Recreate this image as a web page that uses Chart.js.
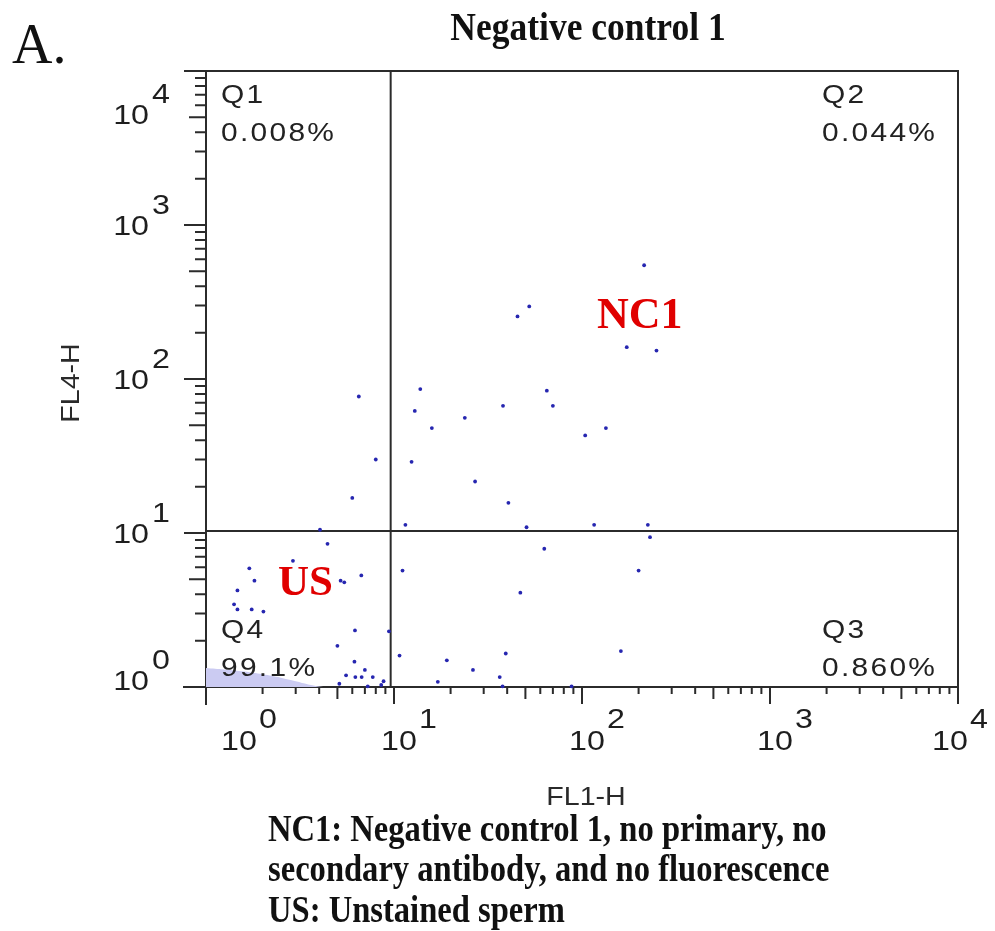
<!DOCTYPE html>
<html>
<head>
<meta charset="utf-8">
<title>Negative control 1</title>
<script src="https://cdn.jsdelivr.net/npm/chart.js@4.4.1/dist/chart.umd.min.js"></script>
<style>
  body { margin: 0; background: #fff; }
  #wrap { position: relative; width: 995px; height: 931px; overflow: hidden; }
  #wrap canvas { position: absolute; left: 0; top: 0; }
  .serif { position: absolute; font-family: "Liberation Serif", "Times New Roman", serif; color: #111; white-space: nowrap; }
  #panel { left: 12px; top: 12px; font-size: 56px; line-height: 64px; }
  #title { left: 388px; width: 400px; top: 4px; text-align: center; font-size: 35.5px; line-height: 40px; font-weight: bold;
           transform: scale(1, 1.12); transform-origin: 50% 0; }
  #caption { left: 268px; top: 809px; font-size: 32.6px; line-height: 35px; font-weight: bold;
             transform: scale(1, 1.15); transform-origin: 0 0; }
</style>
</head>
<body>
<div id="wrap">
  <canvas id="chartCanvas" width="995" height="931"></canvas>
  <div class="serif" id="panel">A.</div>
  <div class="serif" id="title">Negative control 1</div>
  <div class="serif" id="caption">NC1: Negative control 1, no primary, no<br>secondary antibody, and no fluorescence<br>US: Unstained sperm</div>
</div>
<script>
// axis decades (both axes are log, 10^0 .. 10^4)
const decades = [1, 10, 100, 1000, 10000];
const tickExponents = ['0', '1', '2', '3', '4'];
const minorSteps = [2, 3, 4, 5, 6, 7, 8, 9];

// quadrant gate
const gateX = 9.6;
const gateY = 10.3;
const quadrantNames = ['Q1', 'Q2', 'Q3', 'Q4'];
const quadrantPercents = ['0.008%', '0.044%', '0.860%', '99.1%'];

// individual events (FL1-H, FL4-H)
const fl1 = [6.5, 13.8, 12.9, 38, 65, 70, 23.8, 15.9, 104, 8.0,
             12.4, 27, 6.0, 40.6, 4.04, 11.5, 50.7, 116, 4.43, 63,
             2.9, 1.70, 1.81, 6.7, 5.2, 5.44, 11.1, 1.47, 47, 1.41,
             1.47, 1.75, 2.02, 6.2, 9.4, 5.0, 10.7, 19.1, 39.3, 6.16,
             26.3, 7.0, 5.56, 6.23, 6.73, 7.71, 8.8, 36.5, 5.12, 7.25,
             8.55, 17.1, 88, 37.8, 52.4, 45.4, 214, 173, 249, 134,
             224, 230, 200, 161];
const fl4 = [77, 86, 62, 67, 84, 67, 56, 48, 43, 30,
             29, 21.6, 16.9, 15.7, 10.5, 11.3, 10.9, 11.3, 8.5, 7.9,
             6.6, 5.9, 4.9, 5.3, 4.9, 4.78, 5.7, 4.24, 4.1, 3.44,
             3.19, 3.19, 3.09, 2.33, 2.3, 1.85, 1.6, 1.49, 1.65, 1.46,
             1.29, 1.29, 1.19, 1.16, 1.16, 1.16, 1.09, 1.16, 1.05, 1.01,
             1.03, 1.08, 1.01, 1.01, 296, 255, 548, 161, 153, 48,
             11.3, 9.4, 5.7, 1.71];

// outline of the dense unstained population in the corner
const cloudFl1 = [1, 1.25, 1.6, 2.0, 2.5, 3.0, 3.5, 4.2];
const cloudFl4 = [1.33, 1.3, 1.26, 1.21, 1.15, 1.09, 1.04, 1.0];

const sans = '"Liberation Sans", Arial, sans-serif';
const serif = '"Liberation Serif", "Times New Roman", serif';
const ink = '#2b2b2b';

// the cytometer export uses a wide sans face; stretch it a little
function wideText(ctx, text, x, y, align, sx) {
  ctx.save();
  ctx.translate(x, y);
  ctx.scale(sx, 1);
  ctx.textAlign = align;
  ctx.fillText(text, 0, 0);
  ctx.restore();
}

const flowFrame = {
  id: 'flowFrame',
  beforeDatasetsDraw(chart) {
    const { ctx, chartArea: a, scales: { x, y } } = chart;
    ctx.save();
    ctx.strokeStyle = ink;
    ctx.lineWidth = 2;
    ctx.strokeRect(a.left, a.top, a.right - a.left, a.bottom - a.top);
    ctx.beginPath();
    ctx.moveTo(a.left - 23, a.bottom);
    ctx.lineTo(a.right, a.bottom);
    ctx.moveTo(a.left, a.top);
    ctx.lineTo(a.left, a.bottom + 18);
    // tick marks
    decades.forEach((d, i) => {
      const px = x.getPixelForValue(d);
      const py = y.getPixelForValue(d);
      ctx.moveTo(px, a.bottom); ctx.lineTo(px, a.bottom + 17);
      ctx.moveTo(a.left, py); ctx.lineTo(a.left - 22, py);
      if (i === decades.length - 1) return;
      minorSteps.forEach(m => {
        const mx = x.getPixelForValue(d * m);
        const my = y.getPixelForValue(d * m);
        ctx.moveTo(mx, a.bottom); ctx.lineTo(mx, a.bottom + (m === 5 ? 12 : 7));
        ctx.moveTo(a.left, my); ctx.lineTo(a.left - (m === 5 ? 17 : 11), my);
      });
    });
    ctx.stroke();
    ctx.restore();
  },
  afterDatasetsDraw(chart) {
    const { ctx, chartArea: a, scales: { x, y } } = chart;
    const sx = 1.15;
    const last = decades.length - 1;
    ctx.save();
    // tick labels 10^n
    ctx.fillStyle = '#1e1e1e';
    ctx.font = '28px ' + sans;
    ctx.textBaseline = 'alphabetic';
    const w10 = ctx.measureText('10').width * sx;
    decades.forEach((d, i) => {
      const px = x.getPixelForValue(d) + (i === 0 ? 33 : i === last ? -8 : 5);
      wideText(ctx, '10', px, a.bottom + 63, 'center', sx);
      wideText(ctx, tickExponents[i], px + w10 / 2 + 2, a.bottom + 41, 'left', sx);

      let py = y.getPixelForValue(d);
      if (i === 0) py -= 7;
      if (i === last) py += 43;
      wideText(ctx, '10', a.left - 57, py + 10, 'right', sx);
      wideText(ctx, tickExponents[i], a.left - 54, py - 11, 'left', sx);
    });

    // axis titles
    ctx.fillStyle = '#2a2a2a';
    ctx.font = '26px ' + sans;
    wideText(ctx, 'FL1-H', (a.left + a.right) / 2 + 4, a.bottom + 118, 'center', 1.1);
    ctx.save();
    ctx.translate(79, (a.top + a.bottom) / 2 + 4);
    ctx.rotate(-Math.PI / 2);
    wideText(ctx, 'FL4-H', 0, 0, 'center', 1.1);
    ctx.restore();

    // quadrant names and percentages
    ctx.fillStyle = '#222';
    ctx.font = '26px ' + sans;
    ctx.letterSpacing = '2px';
    const qx = [a.left + 15, a.right - 136, a.right - 136, a.left + 15];
    const qy = [a.top + 32, a.top + 32, a.bottom - 49, a.bottom - 49];
    quadrantNames.forEach((q, i) => {
      wideText(ctx, q, qx[i], qy[i], 'left', 1.15);
      wideText(ctx, quadrantPercents[i], qx[i], qy[i] + 38, 'left', 1.15);
    });
    ctx.letterSpacing = '0px';

    // population tags
    ctx.fillStyle = '#e00000';
    ctx.textAlign = 'left';
    ctx.font = 'bold 44px ' + serif;
    ctx.fillText('NC1', a.left + 391, a.top + 257);
    ctx.font = 'bold 43px ' + serif;
    ctx.fillText('US', a.left + 72, a.top + 524);
    ctx.restore();
  }
};

const ctx = document.getElementById('chartCanvas').getContext('2d');

new Chart(ctx, {
  type: 'scatter',
  data: {
    datasets: [
      {
        label: 'Events',
        data: fl1.map((v, i) => ({ x: v, y: fl4[i] })),
        pointRadius: 1.9,
        pointBackgroundColor: '#2626b0',
        pointBorderWidth: 0,
        clip: false
      },
      {
        label: 'Gate FL1',
        data: [{ x: gateX, y: 1 }, { x: gateX, y: 10000 }],
        showLine: true,
        borderColor: ink,
        borderWidth: 2,
        pointRadius: 0
      },
      {
        label: 'Gate FL4',
        data: [{ x: 1, y: gateY }, { x: 10000, y: gateY }],
        showLine: true,
        borderColor: ink,
        borderWidth: 2,
        pointRadius: 0
      },
      {
        label: 'Unstained core',
        data: cloudFl1.map((v, i) => ({ x: v, y: cloudFl4[i] })),
        showLine: true,
        fill: 'start',
        tension: 0.4,
        borderWidth: 0,
        borderColor: 'rgba(0,0,0,0)',
        backgroundColor: '#cbcbf2',
        pointRadius: 0
      }
    ]
  },
  options: {
    responsive: false,
    animation: false,
    devicePixelRatio: 1,
    layout: {
      padding: { left: 206, right: 37, top: 71, bottom: 244 }
    },
    plugins: {
      legend: { display: false },
      tooltip: { enabled: false }
    },
    scales: {
      x: {
        type: 'logarithmic',
        min: 1,
        max: 10000,
        grid: { display: false, drawTicks: false },
        border: { display: false },
        ticks: { display: false }
      },
      y: {
        type: 'logarithmic',
        min: 1,
        max: 10000,
        grid: { display: false, drawTicks: false },
        border: { display: false },
        ticks: { display: false }
      }
    }
  },
  plugins: [flowFrame]
});
</script>
</body>
</html>
